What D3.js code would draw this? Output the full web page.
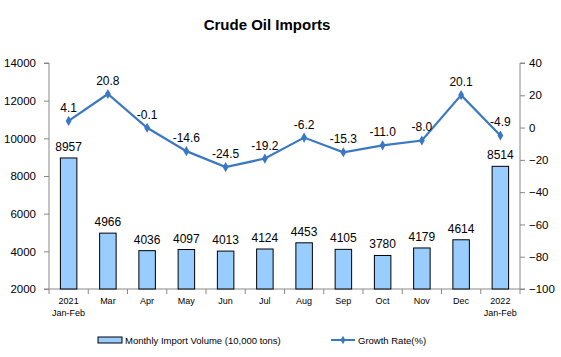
<!DOCTYPE html>
<html><head><meta charset="utf-8">
<script src="https://cdn.jsdelivr.net/npm/d3@7"></script>
<style>body{margin:0;background:#fff}svg{display:block}text{font-family:Arial,"Liberation Sans",sans-serif}</style>
</head><body>
<svg id="c" width="561" height="357"></svg>
<script>
const categories = ["2021\nJan-Feb","Mar","Apr","May","Jun","Jul","Aug","Sep","Oct","Nov","Dec","2022\nJan-Feb"];
const volume = [8957,4966,4036,4097,4013,4124,4453,4105,3780,4179,4614,8514];
const growth = [4.1,20.8,-0.1,-14.6,-24.5,-19.2,-6.2,-15.3,-11.0,-8.0,20.1,-4.9];
const leftTicks = [2000,4000,6000,8000,10000,12000,14000];
const rightTicks = [-100,-80,-60,-40,-20,0,20,40];

const svg = d3.select("#c");
const L=49, R=520, T=63, B=289;
const x = d3.scaleBand().domain(d3.range(categories.length)).range([L,R]);
const yL = d3.scaleLinear().domain([2000,14000]).range([B,T]);
const yR = d3.scaleLinear().domain([-100,40]).range([B,T]);
const blue="#3B78C4";

svg.append("text").attr("x",267).attr("y",30).attr("text-anchor","middle")
  .style("font-size","15px").style("font-weight","bold").text("Crude Oil Imports");

// left axis
const ga=svg.append("g").attr("transform",`translate(${L},0)`)
  .call(d3.axisLeft(yL).tickValues(leftTicks).tickSize(5).tickFormat(d3.format("d")));
ga.select(".domain").attr("stroke","#888").attr("d",`M-5,${T}H0V${B}H-5`);
ga.selectAll("line").attr("stroke","#888");
ga.selectAll("text").style("font-size","11.5px").attr("fill","#000").attr("x",-13);

// right axis
const gr=svg.append("g").attr("transform",`translate(${R},0)`)
  .call(d3.axisRight(yR).tickValues(rightTicks).tickSize(5));
gr.select(".domain").attr("stroke","#888").attr("d",`M5,${T}H0V${B}H5`);
gr.selectAll("line").attr("stroke","#888");
gr.selectAll("text").style("font-size","11.5px").attr("fill","#000").attr("x",9);

// bottom axis
svg.append("line").attr("x1",L).attr("x2",R).attr("y1",B).attr("y2",B).attr("stroke","#888");
svg.selectAll(".xt").data(d3.range(categories.length+1)).enter().append("line")
  .attr("x1",i=>L+i*x.step()).attr("x2",i=>L+i*x.step()).attr("y1",B).attr("y2",B+5).attr("stroke","#888");

// bars
const bw=16.5;
svg.selectAll(".bar").data(volume).enter().append("rect")
  .attr("x",(d,i)=>x(i)+x.bandwidth()/2-bw/2).attr("width",bw)
  .attr("y",d=>yL(d)).attr("height",d=>B-yL(d))
  .attr("fill","#99CCFF").attr("stroke","#000").attr("stroke-width",1);
svg.selectAll(".bl").data(volume).enter().append("text")
  .attr("x",(d,i)=>x(i)+x.bandwidth()/2).attr("y",d=>yL(d)-7)
  .attr("text-anchor","middle").style("font-size","12px").text(d=>d);

// line
const line=d3.line().x((d,i)=>x(i)+x.bandwidth()/2).y(d=>yR(d));
svg.append("path").datum(growth).attr("d",line).attr("fill","none").attr("stroke",blue).attr("stroke-width",2.2);
svg.selectAll(".pt").data(growth).enter().append("path")
  .attr("transform",(d,i)=>`translate(${x(i)+x.bandwidth()/2},${yR(d)})`)
  .attr("d",d3.symbol(d3.symbolDiamond,30)).attr("fill",blue);
svg.selectAll(".gl").data(growth).enter().append("text")
  .attr("x",(d,i)=>x(i)+x.bandwidth()/2).attr("y",d=>yR(d)-9)
  .attr("text-anchor","middle").style("font-size","12px").text(d=>d.toFixed(1));

// category labels
categories.forEach((c,i)=>{
  const t=svg.append("text").attr("x",x(i)+x.bandwidth()/2).attr("y",B+15)
    .attr("text-anchor","middle").style("font-size","9px");
  c.split("\n").forEach((s,j)=>t.append("tspan").attr("x",x(i)+x.bandwidth()/2).attr("dy",j?12:0).text(s));
});

// legend
svg.append("rect").attr("x",98).attr("y",337).attr("width",24).attr("height",6)
  .attr("fill","#99CCFF").attr("stroke","#000");
svg.append("text").attr("x",125).attr("y",344).style("font-size","9.5px").text("Monthly Import Volume (10,000 tons)");
svg.append("line").attr("x1",331).attr("x2",355).attr("y1",340).attr("y2",340).attr("stroke",blue).attr("stroke-width",2);
svg.append("path").attr("transform","translate(343,340)").attr("d",d3.symbol(d3.symbolDiamond,20)).attr("fill",blue);
svg.append("text").attr("x",358).attr("y",344).style("font-size","9.5px").text("Growth Rate(%)");
</script>
</body></html>
